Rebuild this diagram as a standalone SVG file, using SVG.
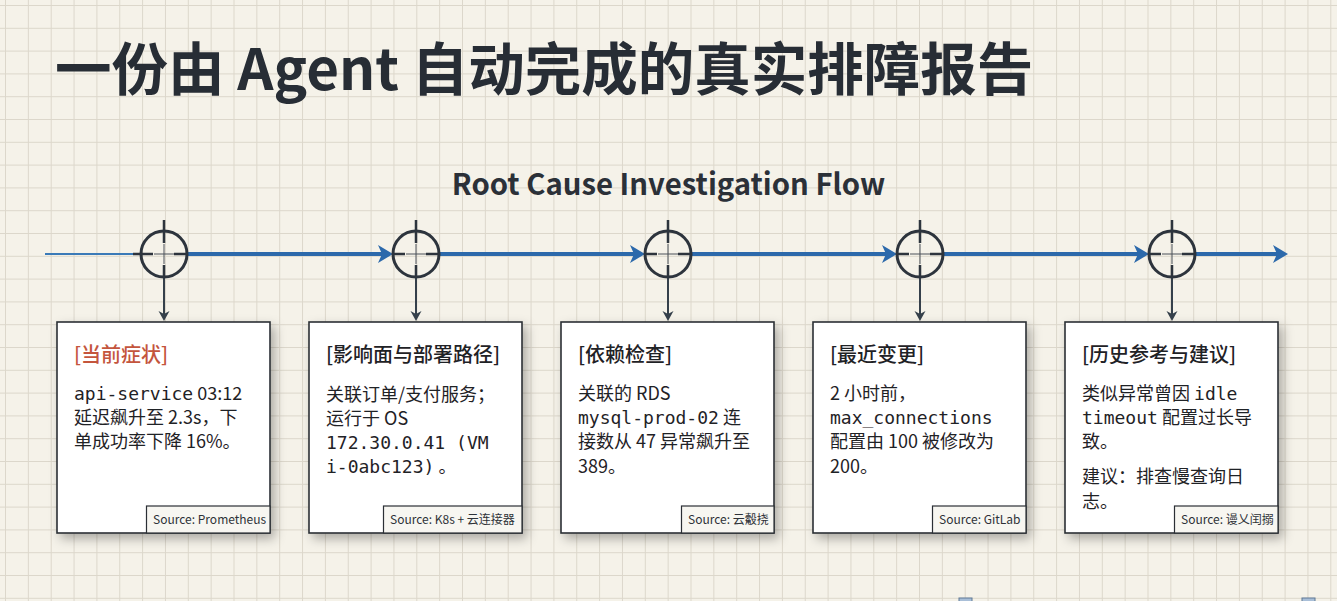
<svg xmlns="http://www.w3.org/2000/svg" width="1337" height="601" viewBox="0 0 1337 601">
  <style>
    .title { font-family: "Noto Sans CJK SC", "Noto Sans", sans-serif; font-weight: 700; font-size: 56.5px; fill: #272d35; }
    .subtitle { font-family: "Noto Sans CJK SC", "Noto Sans", sans-serif; font-weight: 600; font-size: 29.3px; fill: #2b3038; }
    .card { fill: #ffffff; stroke: #2b2f35; stroke-width: 1.6; }
    .head { font-family: "Noto Sans CJK SC", sans-serif; font-weight: 500; font-size: 20px; fill: #1f2226; }
    .head.alert { fill: #c4553d; }
    .body { font-family: "Noto Sans CJK SC", sans-serif; font-size: 18px; fill: #1f2226; }
    .mono { font-family: "DejaVu Sans Mono", "Liberation Mono", monospace; font-size: 18px; }
    .srcbox { fill: #f7f6f1; stroke: #2b2f35; stroke-width: 1.2; }
    .src { font-family: "Noto Sans CJK SC", sans-serif; font-size: 12px; fill: #2e3238; }
    .ring { fill: none; stroke: #2d343d; stroke-width: 3; }
    .tick { stroke: #2d343d; stroke-width: 2.5; }
    .hair { stroke: #4a5058; stroke-width: 1; }
    .flow { stroke: #2c69ab; stroke-width: 4; fill: none; }
    .lead { stroke: #3a7ab8; stroke-width: 2; fill: none; }
    .drop { stroke: #35404b; stroke-width: 2; fill: none; }
  </style>
  <defs>
    <pattern id="grid" x="5" y="5" width="22.85" height="22.8" patternUnits="userSpaceOnUse">
      <path d="M0 0.5 H22.85 M0.5 0 V22.8" stroke="#dcd7cb" stroke-width="1" fill="none"/>
    </pattern>
    <filter id="shadow" x="-12%" y="-12%" width="130%" height="130%">
      <feDropShadow dx="4" dy="5" stdDeviation="5.5" flood-color="#000" flood-opacity="0.3"/>
    </filter>
    <marker id="blueArrow" viewBox="-1 -10 17 20" refX="7" refY="0" markerWidth="17" markerHeight="20" markerUnits="userSpaceOnUse" orient="auto">
      <path d="M0,-9 L15,0 L0,9 L4,0 Z" fill="#2c69ab"/>
    </marker>
    <marker id="darkArrow" viewBox="-1 -7 12 14" refX="5" refY="0" markerWidth="12" markerHeight="14" markerUnits="userSpaceOnUse" orient="auto">
      <path d="M0,-5.5 L10,0 L0,5.5 L3,0 Z" fill="#35404b"/>
    </marker>
  </defs>

  <rect width="1337" height="601" fill="#f5f2e9"/>
  <rect width="1337" height="601" fill="url(#grid)"/>

  <text class="title" x="55" y="90">一份由 Agent 自动完成的真实排障报告</text>
  <text class="subtitle" x="668.5" y="195" text-anchor="middle">Root Cause Investigation Flow</text>

  <g id="connectors">
    <line class="lead" x1="45" y1="254" x2="141" y2="254"/>
    <line class="flow" x1="188" y1="254" x2="385" y2="254" marker-end="url(#blueArrow)"/>
    <line class="flow" x1="440" y1="254" x2="637" y2="254" marker-end="url(#blueArrow)"/>
    <line class="flow" x1="692" y1="254" x2="889" y2="254" marker-end="url(#blueArrow)"/>
    <line class="flow" x1="944" y1="254" x2="1141" y2="254" marker-end="url(#blueArrow)"/>
    <line class="flow" x1="1196" y1="254" x2="1280" y2="254" marker-end="url(#blueArrow)"/>
    <line class="drop" x1="164" y1="277" x2="164" y2="316" marker-end="url(#darkArrow)"/>
    <line class="drop" x1="416" y1="277" x2="416" y2="316" marker-end="url(#darkArrow)"/>
    <line class="drop" x1="668" y1="277" x2="668" y2="316" marker-end="url(#darkArrow)"/>
    <line class="drop" x1="920" y1="277" x2="920" y2="316" marker-end="url(#darkArrow)"/>
    <line class="drop" x1="1172" y1="277" x2="1172" y2="316" marker-end="url(#darkArrow)"/>
  </g>

  <g id="checkpoint-1" transform="translate(164 254)">
    <circle class="ring" r="23"/>
    <path class="tick" d="M0 -34 V-11 M0 11 V24 M-31 0 H-11 M10 0 H24"/>
    <path class="hair" d="M-10 0 H10 M0 -10 V10"/>
  </g>
  <g id="checkpoint-2" transform="translate(416 254)">
    <circle class="ring" r="23"/>
    <path class="tick" d="M0 -34 V-11 M0 11 V24 M-24 0 H-11 M10 0 H24"/>
    <path class="hair" d="M-10 0 H10 M0 -10 V10"/>
  </g>
  <g id="checkpoint-3" transform="translate(668 254)">
    <circle class="ring" r="23"/>
    <path class="tick" d="M0 -34 V-11 M0 11 V24 M-24 0 H-11 M10 0 H24"/>
    <path class="hair" d="M-10 0 H10 M0 -10 V10"/>
  </g>
  <g id="checkpoint-4" transform="translate(920 254)">
    <circle class="ring" r="23"/>
    <path class="tick" d="M0 -34 V-11 M0 11 V24 M-24 0 H-11 M10 0 H24"/>
    <path class="hair" d="M-10 0 H10 M0 -10 V10"/>
  </g>
  <g id="checkpoint-5" transform="translate(1172 254)">
    <circle class="ring" r="23"/>
    <path class="tick" d="M0 -34 V-11 M0 11 V24 M-24 0 H-11 M10 0 H24"/>
    <path class="hair" d="M-10 0 H10 M0 -10 V10"/>
  </g>

  <g id="card-symptom">
    <rect class="card" x="57" y="322" width="213" height="211" filter="url(#shadow)"/>
    <text class="head alert" x="74" y="362">[当前症状]</text>
    <text class="body" x="74" y="400"><tspan class="mono">api-service</tspan> 03:12</text>
    <text class="body" x="74" y="424">延迟飙升至 2.3s，下</text>
    <text class="body" x="74" y="448">单成功率下降 16%。</text>
    <rect class="srcbox" x="146.5" y="506" width="123.5" height="27"/>
    <text class="src" x="153" y="524">Source: Prometheus</text>
  </g>

  <g id="card-impact">
    <rect class="card" x="309" y="322" width="213" height="211" filter="url(#shadow)"/>
    <text class="head" x="326" y="362">[影响面与部署路径]</text>
    <text class="body" x="326" y="401">关联订单/支付服务；</text>
    <text class="body" x="326" y="425">运行于 OS</text>
    <text class="body" x="326" y="449"><tspan class="mono">172.30.0.41 (VM</tspan></text>
    <text class="body" x="326" y="473"><tspan class="mono">i-0abc123)</tspan> 。</text>
    <rect class="srcbox" x="383.5" y="506" width="138.5" height="27"/>
    <text class="src" x="390" y="524">Source: K8s + 云连接器</text>
  </g>

  <g id="card-dependency">
    <rect class="card" x="561" y="322" width="213" height="211" filter="url(#shadow)"/>
    <text class="head" x="578" y="362">[依赖检查]</text>
    <text class="body" x="578" y="400">关联的 RDS</text>
    <text class="body" x="578" y="424"><tspan class="mono">mysql-prod-02</tspan> 连</text>
    <text class="body" x="578" y="448">接数从 47 异常飙升至</text>
    <text class="body" x="578" y="473">389。</text>
    <rect class="srcbox" x="681.5" y="506" width="92.5" height="27"/>
    <text class="src" x="688" y="524">Source: 云觳挠</text>
  </g>

  <g id="card-change">
    <rect class="card" x="813" y="322" width="213" height="211" filter="url(#shadow)"/>
    <text class="head" x="830" y="362">[最近变更]</text>
    <text class="body" x="830" y="400">2 小时前，</text>
    <text class="body" x="830" y="424"><tspan class="mono">max_connections</tspan></text>
    <text class="body" x="830" y="448">配置由 100 被修改为</text>
    <text class="body" x="830" y="473">200。</text>
    <rect class="srcbox" x="932.5" y="506" width="93.5" height="27"/>
    <text class="src" x="939" y="524">Source: GitLab</text>
  </g>

  <g id="card-history">
    <rect class="card" x="1065" y="322" width="213" height="211" filter="url(#shadow)"/>
    <text class="head" x="1082" y="362">[历史参考与建议]</text>
    <text class="body" x="1082" y="400">类似异常曾因 <tspan class="mono">idle</tspan></text>
    <text class="body" x="1082" y="424"><tspan class="mono">timeout</tspan> 配置过长导</text>
    <text class="body" x="1082" y="448">致。</text>
    <text class="body" x="1082" y="483">建议：排查慢查询日</text>
    <text class="body" x="1082" y="508">志。</text>
    <rect class="srcbox" x="1174.5" y="506" width="103.5" height="27"/>
    <text class="src" x="1181" y="524">Source: 谩乂闰搦</text>
  </g>

  <rect x="959" y="598" width="13" height="4" fill="#a9bfd8" stroke="#5e7895" stroke-width="1"/>
  <rect x="1302" y="598" width="13" height="4" fill="#a9bfd8" stroke="#5e7895" stroke-width="1"/>
</svg>
